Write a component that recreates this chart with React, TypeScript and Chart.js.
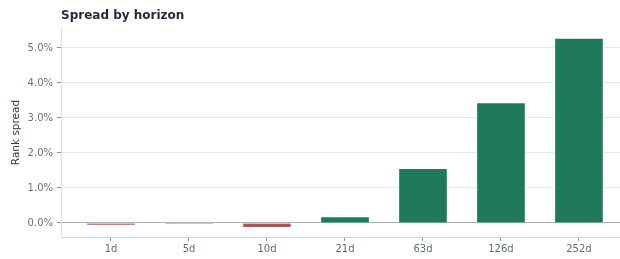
import React, { useEffect, useRef } from "react";
import { Chart, registerables } from "chart.js";

Chart.register(...registerables);

const title = "Spread by horizon";
const yAxisTitle = "Rank spread";
const horizons = ["1d", "5d", "10d", "21d", "63d", "126d", "252d"];
const spreadPct = [-0.07, -0.03, -0.13, 0.18, 1.56, 3.44, 5.28];
const yTicks = [0, 1, 2, 3, 4, 5];

const GREEN = "#1f7a5a";
const RED = "#a35a57";

export default function App() {
  const ref = useRef<HTMLCanvasElement | null>(null);

  useEffect(() => {
    document.body.style.margin = "0";
    document.body.style.overflow = "hidden";
    const canvas = ref.current!;
    const titlePlugin = {
      id: "leftTitle",
      afterDraw(chart: any) {
        const ctx = chart.ctx;
        ctx.save();
        ctx.font = "bold 12px 'DejaVu Sans'";
        ctx.fillStyle = "#1f2a3a";
        ctx.textAlign = "left";
        ctx.textBaseline = "alphabetic";
        ctx.fillText(title, chart.chartArea.left, 18.5);
        ctx.restore();
      },
    };
    const chart = new Chart(canvas, {
      type: "bar",
      data: {
        datasets: [
          {
            data: spreadPct.map((v, i) => ({ x: i, y: v })),
            backgroundColor: spreadPct.map((v) => (v >= 0 ? GREEN : RED)),
            borderColor: "rgba(255,255,255,0.2)",
            borderWidth: 1,
            barThickness: 49,
          },
        ],
      },
      options: {
        animation: false,
        responsive: false,
        maintainAspectRatio: false,
        layout: { padding: { top: 28, left: 0, right: 0, bottom: 0 } },
        plugins: { legend: { display: false }, tooltip: { enabled: false } },
        scales: {
          x: {
            type: "linear",
            offset: false,
            min: -0.641,
            max: 6.526,
            afterBuildTicks: (s: any) => {
              s.ticks = horizons.map((_, i) => ({ value: i }));
            },
            afterFit: (s: any) => {
              s.height = 22;
            },
            ticks: {
              callback: (v: any) => horizons[v] ?? "",
              color: "#5f6b7a",
              font: { family: "'DejaVu Sans'", size: 10 },
              padding: 2,
              maxRotation: 0,
              autoSkip: false,
            },
            grid: {
              offset: false,
              drawOnChartArea: false,
              drawTicks: true,
              tickLength: 4,
              tickColor: "#8a94a3",
            },
            border: { color: "#cfd6de", width: 1 },
          },
          y: {
            min: -0.4,
            max: 5.571,
            afterBuildTicks: (s: any) => {
              s.ticks = yTicks.map((v) => ({ value: v }));
            },
            afterFit: (s: any) => {
              s.width = 61;
            },
            ticks: {
              callback: (v: any) => Number(v).toFixed(1) + "%",
              color: "#667385",
              font: { family: "'DejaVu Sans'", size: 10 },
              padding: 4,
            },
            grid: {
              color: (c: any) => (c.tick && c.tick.value === 0 ? "#a9b1bb" : "#e6eaef"),
              tickColor: "#8a94a3",
              tickLength: 4,
            },
            border: { color: "#dde3ea", width: 1 },
            title: {
              display: true,
              text: yAxisTitle,
              color: "#2f3a4a",
              font: { family: "'DejaVu Sans'", size: 10.5 },
              padding: { top: 10, bottom: 0 },
            },
          },
        },
      },
      plugins: [titlePlugin],
    } as any);
    return () => chart.destroy();
  }, []);

  return (
    <div style={{ position: "absolute", left: 0, top: 0, width: 620, height: 259 }}>
      <canvas ref={ref} width={620} height={259} style={{ display: "block" }} />
    </div>
  );
}
